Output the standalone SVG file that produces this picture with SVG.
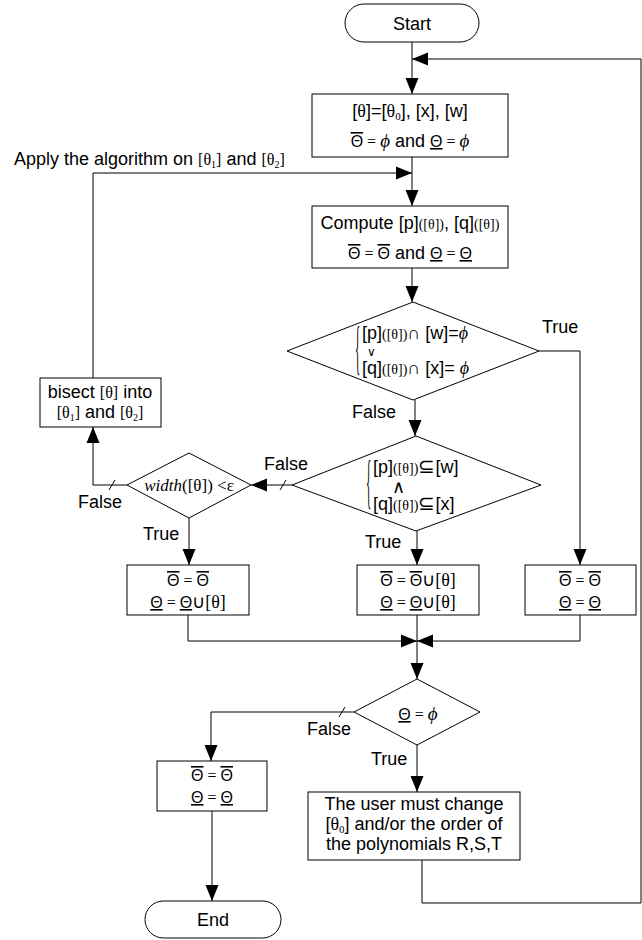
<svg xmlns="http://www.w3.org/2000/svg" width="642" height="940" viewBox="0 0 642 940">
<defs>
<style>
.s{fill:#fff;stroke:#000;stroke-width:1}
.c{fill:none;stroke:#000;stroke-width:1}
.t{font-family:"Liberation Sans",Arial,sans-serif;font-size:18px;fill:#000}
.sr{font-family:"Liberation Serif","Times New Roman",serif;fill:#000}
.sm{font-size:14px}
.th{font-size:16px}
.ov{text-decoration:overline}
.un{text-decoration:underline}
.ph{font-family:"Liberation Serif","DejaVu Serif",serif;font-style:italic;font-size:19px}
.ph2{font-family:"Liberation Serif","DejaVu Serif",serif;font-style:italic;font-size:18px}
.big{font-size:20px}
</style>
<marker id="a" markerUnits="userSpaceOnUse" markerWidth="16" markerHeight="14" refX="16" refY="7" orient="auto">
<path d="M0,0.5 L16,7 L0,13.5 z" fill="#000"/>
</marker>
</defs>
<rect width="642" height="940" fill="#fff"/>

<g id="connectors">
<line class="c" x1="412" y1="42" x2="412" y2="94" marker-end="url(#a)"/>
<polyline class="c" points="422,860 422,903 641,903 641,59 412,59" marker-end="url(#a)"/>
<line class="c" x1="412" y1="157" x2="412" y2="206" marker-end="url(#a)"/>
<polyline class="c" points="93,378 93,173 412,173" marker-end="url(#a)"/>
<line class="c" x1="412" y1="268" x2="412" y2="302" marker-end="url(#a)"/>
<polyline class="c" points="539,351 580,351 580,565" marker-end="url(#a)"/>
<line class="c" x1="415" y1="400" x2="415" y2="436" marker-end="url(#a)"/>
<line class="c" x1="292" y1="485" x2="251" y2="485" marker-end="url(#a)"/>
<line class="c" x1="280" y1="490" x2="286" y2="480"/>
<polyline class="c" points="127,485 93,485 93,427" marker-end="url(#a)"/>
<line class="c" x1="109" y1="490" x2="115" y2="480"/>
<line class="c" x1="189" y1="518" x2="189" y2="565" marker-end="url(#a)"/>
<line class="c" x1="417" y1="531" x2="417" y2="565" marker-end="url(#a)"/>
<polyline class="c" points="188,615 188,641 417,641" marker-end="url(#a)"/>
<polyline class="c" points="580,615 580,641 417,641" marker-end="url(#a)"/>
<line class="c" x1="417" y1="615" x2="417" y2="679" marker-end="url(#a)"/>
<polyline class="c" points="354,712 211,712 211,761" marker-end="url(#a)"/>
<line class="c" x1="339" y1="717" x2="345" y2="707"/>
<line class="c" x1="417" y1="745" x2="417" y2="792" marker-end="url(#a)"/>
<line class="c" x1="212" y1="811" x2="212" y2="901" marker-end="url(#a)"/>
<text class="t" x="542" y="333">True</text>
<text class="t" x="352" y="418">False</text>
<text class="t" x="264" y="470">False</text>
<text class="t" x="78" y="508">False</text>
<text class="t" x="143" y="540">True</text>
<text class="t" x="365" y="548">True</text>
<text class="t" x="307" y="735">False</text>
<text class="t" x="371" y="765">True</text>
<text class="t" x="14" y="165">Apply the algorithm on <tspan class="sr th">[θ</tspan><tspan class="sr" font-size="10" dy="3">1</tspan><tspan class="sr th" dy="-3">]</tspan> and <tspan class="sr th">[θ</tspan><tspan class="sr" font-size="10" dy="3">2</tspan><tspan class="sr th" dy="-3">]</tspan></text>
</g>

<g id="start">
<rect class="s" x="345" y="4" width="134" height="38" rx="19"/>
<text class="t" x="412" y="30" text-anchor="middle">Start</text>
</g>

<g id="init">
<rect class="s" x="312" y="94" width="196" height="63"/>
<text class="t" x="410" y="117" text-anchor="middle">[<tspan class="sr">θ</tspan>]=[<tspan class="sr">θ</tspan><tspan class="sr" font-size="11" dy="3">0</tspan><tspan dy="-3">], [x], [w]</tspan></text>
<text class="t" x="410" y="147" text-anchor="middle"><tspan class="ov th">Θ</tspan><tspan class="sr th"> = </tspan><tspan class="ph">ϕ</tspan>  and  <tspan class="un th">Θ</tspan><tspan class="sr th"> = </tspan><tspan class="ph">ϕ</tspan></text>
</g>

<g id="compute">
<rect class="s" x="312" y="206" width="196" height="62"/>
<text class="t" x="410" y="229" text-anchor="middle">Compute [p]<tspan class="sr sm">([θ])</tspan>, [q]<tspan class="sr sm">([θ])</tspan></text>
<text class="t" x="410" y="259" text-anchor="middle"><tspan class="ov th">Θ</tspan><tspan class="sr th"> = </tspan><tspan class="ov th">Θ</tspan> and <tspan class="un th">Θ</tspan><tspan class="sr th"> = </tspan><tspan class="un th">Θ</tspan></text>
</g>

<g id="decision1">
<polygon class="s" points="413,302 539,351 413,400 287,351"/>
<text class="sr" font-size="20" transform="translate(355,367) scale(0.55,3)">{</text>
<text class="t"><tspan x="362" y="339">[p]</tspan><tspan class="sr sm">([θ])</tspan>∩ [w]=<tspan class="ph2">ϕ</tspan><tspan x="367" y="356" font-size="12">∨</tspan><tspan x="362" y="374">[q]</tspan><tspan class="sr sm">([θ])</tspan>∩ [x]= <tspan class="ph2">ϕ</tspan></text>
</g>

<g id="decision2">
<polygon class="s" points="416,436 541,485 416,531 292,485"/>
<text class="sr" font-size="20" transform="translate(366,501) scale(0.55,3)">{</text>
<text class="t"><tspan x="373" y="473">[p]</tspan><tspan class="sr sm">([θ])</tspan><tspan class="big">⊆</tspan>[w]<tspan x="392" y="493">∧</tspan><tspan x="373" y="510">[q]</tspan><tspan class="sr sm">([θ])</tspan><tspan class="big">⊆</tspan>[x]</text>
</g>

<g id="width">
<polygon class="s" points="189,453 251,485 189,518 127,485"/>
<text class="sr" x="189" y="491" font-size="17" text-anchor="middle"><tspan font-style="italic">width</tspan>([θ]) &lt;ε</text>
</g>

<g id="bisect">
<rect class="s" x="40" y="378" width="121" height="49"/>
<text class="t" x="100" y="398" text-anchor="middle">bisect <tspan class="sr th">[θ]</tspan> into</text>
<text class="t" x="100" y="418" text-anchor="middle"><tspan class="sr th">[θ</tspan><tspan class="sr" font-size="10" dy="3">1</tspan><tspan class="sr th" dy="-3">]</tspan> and <tspan class="sr th">[θ</tspan><tspan class="sr" font-size="10" dy="3">2</tspan><tspan class="sr th" dy="-3">]</tspan></text>
</g>

<g id="box-left">
<rect class="s" x="127" y="565" width="122" height="50"/>
<text class="t" x="188" y="586" text-anchor="middle"><tspan class="ov th">Θ</tspan><tspan class="sr th"> = </tspan><tspan class="ov th">Θ</tspan></text>
<text class="t" x="188" y="608" text-anchor="middle"><tspan class="un th">Θ</tspan><tspan class="sr th"> = </tspan><tspan class="un th">Θ</tspan>∪<tspan class="sr">[θ]</tspan></text>
</g>

<g id="box-middle">
<rect class="s" x="357" y="565" width="122" height="50"/>
<text class="t" x="418" y="586" text-anchor="middle"><tspan class="ov th">Θ</tspan><tspan class="sr th"> = </tspan><tspan class="ov th">Θ</tspan>∪<tspan class="sr">[θ]</tspan></text>
<text class="t" x="418" y="608" text-anchor="middle"><tspan class="un th">Θ</tspan><tspan class="sr th"> = </tspan><tspan class="un th">Θ</tspan>∪<tspan class="sr">[θ]</tspan></text>
</g>

<g id="box-right">
<rect class="s" x="525" y="565" width="111" height="50"/>
<text class="t" x="580" y="586" text-anchor="middle"><tspan class="ov th">Θ</tspan><tspan class="sr th"> = </tspan><tspan class="ov th">Θ</tspan></text>
<text class="t" x="580" y="608" text-anchor="middle"><tspan class="un th">Θ</tspan><tspan class="sr th"> = </tspan><tspan class="un th">Θ</tspan></text>
</g>

<g id="decision3">
<polygon class="s" points="417,679 480,712 417,745 354,712"/>
<text class="t" x="418" y="720" text-anchor="middle"><tspan class="un th">Θ</tspan><tspan class="sr th"> = </tspan><tspan class="ph">ϕ</tspan></text>
</g>

<g id="box-final">
<rect class="s" x="157" y="761" width="110" height="50"/>
<text class="t" x="212" y="781" text-anchor="middle"><tspan class="ov th">Θ</tspan><tspan class="sr th"> = </tspan><tspan class="ov th">Θ</tspan></text>
<text class="t" x="212" y="803" text-anchor="middle"><tspan class="un th">Θ</tspan><tspan class="sr th"> = </tspan><tspan class="un th">Θ</tspan></text>
</g>

<g id="user">
<rect class="s" x="308" y="792" width="212" height="68"/>
<text class="t" x="414" y="810" text-anchor="middle">The user must change</text>
<text class="t" x="414" y="830" text-anchor="middle">[<tspan class="sr">θ</tspan><tspan class="sr" font-size="11" dy="3">0</tspan><tspan dy="-3">] and/or the order of</tspan></text>
<text class="t" x="414" y="850" text-anchor="middle">the polynomials R,S,T</text>
</g>

<g id="end">
<rect class="s" x="145" y="901" width="136" height="37" rx="18.5"/>
<text class="t" x="213" y="926" text-anchor="middle">End</text>
</g>
</svg>
